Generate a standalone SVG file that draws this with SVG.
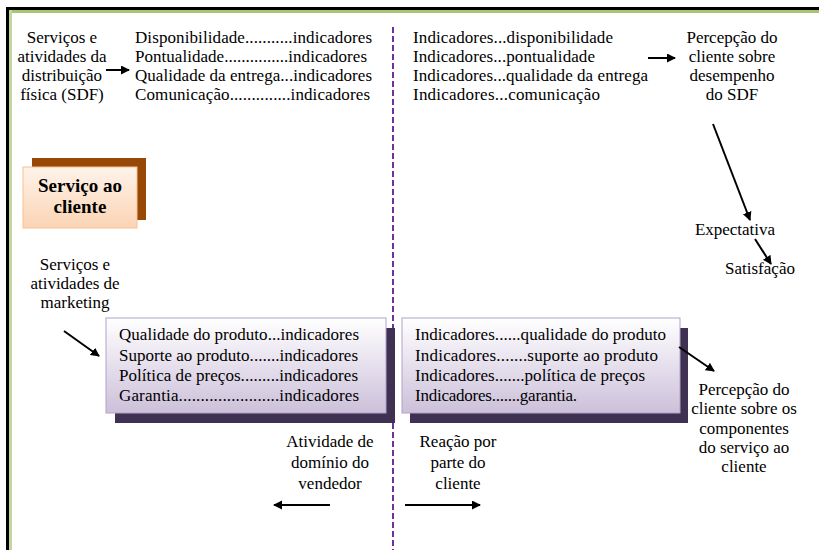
<svg xmlns="http://www.w3.org/2000/svg" width="819" height="550" viewBox="0 0 819 550">
<style>
text{font-family:"Liberation Serif","Times New Roman",serif;font-size:17px;fill:#000}
.c{text-anchor:middle}
.b{font-weight:bold;font-size:19px}
.ar{stroke:#000;stroke-width:2;fill:none;marker-end:url(#ah)}
</style>
<defs>
<marker id="ah" markerWidth="12" markerHeight="10" refX="8" refY="4.5" orient="auto" markerUnits="userSpaceOnUse">
<path d="M0,0 L9,4.5 L0,9 Z" fill="#000"/>
</marker>
<linearGradient id="gOr" x1="0" y1="0" x2="0" y2="1">
<stop offset="0" stop-color="#fff3ea"/>
<stop offset="1" stop-color="#fbd4b4"/>
</linearGradient>
<linearGradient id="gPu" x1="0" y1="0" x2="0" y2="1">
<stop offset="0" stop-color="#ffffff"/>
<stop offset="1" stop-color="#ccc0da"/>
</linearGradient>
</defs>
<rect width="819" height="550" fill="#fff"/>
<g id="frame">
<rect x="6" y="7" width="813" height="3" fill="#000"/>
<rect x="6" y="7" width="3" height="543" fill="#000"/>
<rect x="9" y="10" width="810" height="3" fill="#9bbb59" opacity="0.85"/>
<rect x="9" y="10" width="3" height="540" fill="#c3d69b"/>
</g>
<g id="divider">
<line x1="393" y1="27" x2="393" y2="550" stroke="#7030a0" stroke-width="2" stroke-dasharray="6 3"/>
</g>
<g id="sdf-label">
<text class="c" x="62" y="43">Serviços e</text>
<text class="c" x="62" y="62">atividades da</text>
<text class="c" x="62" y="81">distribuição</text>
<text class="c" x="62" y="100">física (SDF)</text>
</g>
<g id="sdf-list">
<text x="135" y="43" textLength="237" lengthAdjust="spacing">Disponibilidade...........indicadores</text>
<text x="135" y="62" textLength="232" lengthAdjust="spacing">Pontualidade...............indicadores</text>
<text x="135" y="81" textLength="237" lengthAdjust="spacing">Qualidade da entrega...indicadores</text>
<text x="135" y="100" textLength="235" lengthAdjust="spacing">Comunicação..............indicadores</text>
</g>
<g id="sdf-indicators">
<text x="413" y="43" textLength="200" lengthAdjust="spacing">Indicadores...disponibilidade</text>
<text x="413" y="62" textLength="182" lengthAdjust="spacing">Indicadores...pontualidade</text>
<text x="413" y="81" textLength="235" lengthAdjust="spacing">Indicadores...qualidade da entrega</text>
<text x="413" y="100" textLength="187" lengthAdjust="spacing">Indicadores...comunicação</text>
</g>
<g id="sdf-perception">
<text class="c" x="732" y="43">Percepção do</text>
<text class="c" x="732" y="62">cliente sobre</text>
<text class="c" x="732" y="81">desempenho</text>
<text class="c" x="732" y="100">do SDF</text>
</g>
<g id="servico-cliente">
<rect x="32" y="158" width="114" height="62" fill="#974806"/>
<rect x="23" y="167" width="114" height="61" fill="url(#gOr)" stroke="#fac090" stroke-width="1"/>
<text class="c b" x="80" y="192">Serviço ao</text>
<text class="c b" x="80" y="213">cliente</text>
</g>
<g id="expectativa">
<text class="c" x="735" y="235">Expectativa</text>
</g>
<g id="satisfacao">
<text class="c" x="760" y="274">Satisfação</text>
</g>
<g id="mkt-label">
<text class="c" x="75" y="270">Serviços e</text>
<text class="c" x="75" y="289">atividades de</text>
<text class="c" x="75" y="308">marketing</text>
</g>
<g id="mkt-box">
<rect x="115" y="328" width="280" height="95" fill="#3f3151"/>
<rect x="106" y="318" width="280" height="95" fill="url(#gPu)" stroke="#b2a2c7" stroke-width="1"/>
<text x="119" y="340" textLength="240" lengthAdjust="spacing">Qualidade do produto...indicadores</text>
<text x="119" y="361" textLength="239" lengthAdjust="spacing">Suporte ao produto.......indicadores</text>
<text x="119" y="381" textLength="239" lengthAdjust="spacing">Política de preços.........indicadores</text>
<text x="119" y="401" textLength="240" lengthAdjust="spacing">Garantia.......................indicadores</text>
</g>
<g id="mkt-indicators">
<rect x="410" y="328" width="278" height="95" fill="#3f3151"/>
<rect x="402" y="318" width="278" height="95" fill="url(#gPu)" stroke="#b2a2c7" stroke-width="1"/>
<text x="415" y="340" textLength="251" lengthAdjust="spacing">Indicadores......qualidade do produto</text>
<text x="415" y="361" textLength="243" lengthAdjust="spacing">Indicadores.......suporte ao produto</text>
<text x="415" y="381" textLength="230" lengthAdjust="spacing">Indicadores.......política de preços</text>
<text x="415" y="401" textLength="162" lengthAdjust="spacing">Indicadores.......garantia.</text>
</g>
<g id="mkt-perception">
<text class="c" x="744" y="395">Percepção do</text>
<text class="c" x="744" y="414">cliente sobre os</text>
<text class="c" x="744" y="434">componentes</text>
<text class="c" x="744" y="453">do serviço ao</text>
<text class="c" x="744" y="472">cliente</text>
</g>
<g id="vendedor">
<text class="c" x="330" y="447">Atividade de</text>
<text class="c" x="330" y="468">domínio do</text>
<text class="c" x="330" y="489">vendedor</text>
</g>
<g id="cliente">
<text class="c" x="458" y="447">Reação por</text>
<text class="c" x="458" y="468">parte do</text>
<text class="c" x="458" y="489">cliente</text>
</g>
<g id="connectors">
<line class="ar" x1="106" y1="70" x2="129" y2="70"/>
<line class="ar" x1="648" y1="58" x2="675" y2="58"/>
<line class="ar" x1="713" y1="124" x2="750" y2="220"/>
<line class="ar" x1="755" y1="239" x2="771" y2="264"/>
<line class="ar" x1="64" y1="331" x2="99" y2="356"/>
<line class="ar" x1="679" y1="347" x2="714" y2="371"/>
<line class="ar" x1="330" y1="505" x2="274" y2="505"/>
<line class="ar" x1="405" y1="505" x2="480" y2="505"/>
</g>
</svg>
